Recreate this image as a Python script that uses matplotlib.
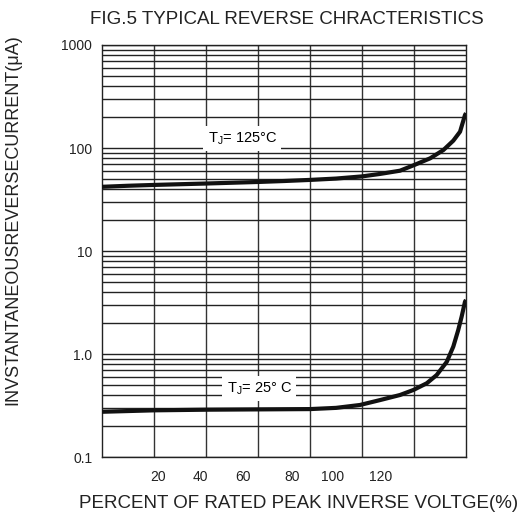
import numpy as np
import matplotlib
matplotlib.use("Agg")
from matplotlib import pyplot as plt
from matplotlib.ticker import LogLocator, NullFormatter, FixedLocator

plt.rcParams['font.family'] = ['Liberation Sans', 'DejaVu Sans']

# curve for Tj = 125 C  (percent of rated voltage, current in uA)
x_125 = [0, 10, 20, 30, 40, 50, 60, 70, 80, 90, 100, 106.9, 114.6, 120.1, 126.2, 131.3, 135.1, 137.7, 139.6, 140]
i_125 = [42, 43, 43.8, 44.5, 45.2, 46, 46.8, 47.8, 49, 50.5, 53, 56, 60.2, 68.4, 79.4, 95.6, 117.8, 144, 209, 218]

# curve for Tj = 25 C
x_25 = [0, 20, 40, 60, 80, 90, 99.2, 106.9, 114.6, 119.7, 124.9, 128.7, 132.6, 135.1, 137.0, 138.3, 139.6, 140]
i_25 = [0.275, 0.284, 0.288, 0.29, 0.292, 0.30, 0.32, 0.357, 0.40, 0.447, 0.52, 0.625, 0.84, 1.18, 1.71, 2.30, 3.22, 3.35]

# tick labels (placed as in the original sheet, not on the grid)
xlab_pos = [21.5, 37.7, 54.2, 73, 88.5, 107]
xlab_txt = ['20', '40', '60', '80', '100', '120']
ytick_val = [0.1, 1, 10, 100, 1000]
ytick_txt = ['0.1', '1.0', '10', '100', '1000']
xgrid = [20, 40, 60, 80, 100, 120]

fig = plt.figure(figsize=(5.26, 5.16), dpi=100)
ax = fig.add_axes([0.1939, 0.1143, 0.6921, 0.7985])
ax.set_yscale('log')
ax.set_xlim(0, 140)
ax.set_ylim(0.1, 1000)

# grid: log minor lines 2..9 per decade, verticals every 20
ax.yaxis.set_major_locator(FixedLocator(ytick_val))
ax.yaxis.set_minor_locator(LogLocator(base=10, subs=np.arange(2, 10)))
ax.yaxis.set_minor_formatter(NullFormatter())
ax.set_yticklabels(ytick_txt)
ax.xaxis.set_major_locator(FixedLocator(xlab_pos))
ax.set_xticklabels(xlab_txt)
ax.xaxis.set_minor_locator(FixedLocator(xgrid))
ax.grid(True, which='both', axis='y', color='#222222', lw=1.0)
ax.grid(True, which='minor', axis='x', color='#333333', lw=1.0)
ax.tick_params(which='both', length=0, labelsize=10, colors='#222222')
ax.tick_params(axis='x', pad=9)
ax.tick_params(axis='y', pad=7)
for s in ax.spines.values():
    s.set_color('#222222')
    s.set_linewidth(1.0)

ax.plot(x_125, i_125, color='#111111', lw=3, solid_capstyle='butt', zorder=3)
ax.plot(x_25, i_25, color='#111111', lw=3, solid_capstyle='butt', zorder=3)

box = dict(facecolor='white', edgecolor='none', pad=3)
ax.text(54, 124, r'T$_\mathregular{J}$= 125°C', fontsize=10.5, ha='center', va='center',
        bbox=box, zorder=4)
ax.text(60.5, 0.29 * 10 ** ((409 - 388) / 103), r'T$_\mathregular{J}$= 25° C', fontsize=10.5,
        ha='center', va='center', bbox=box, zorder=4)

fig.text(0.546, 0.963, 'FIG.5 TYPICAL REVERSE CHRACTERISTICS', fontsize=13.5, ha='center', va='center',
         color='#222222')
fig.text(0.567, 0.025, 'PERCENT OF RATED PEAK INVERSE VOLTGE(%)', fontsize=13.5, ha='center', va='center',
         color='#222222')
fig.text(0.025, 0.574, 'INVSTANTANEOUSREVERSECURRENT(μA)', fontsize=13, rotation=90, ha='center',
         va='center', color='#222222')

fig.savefig('out.png', dpi=100)
